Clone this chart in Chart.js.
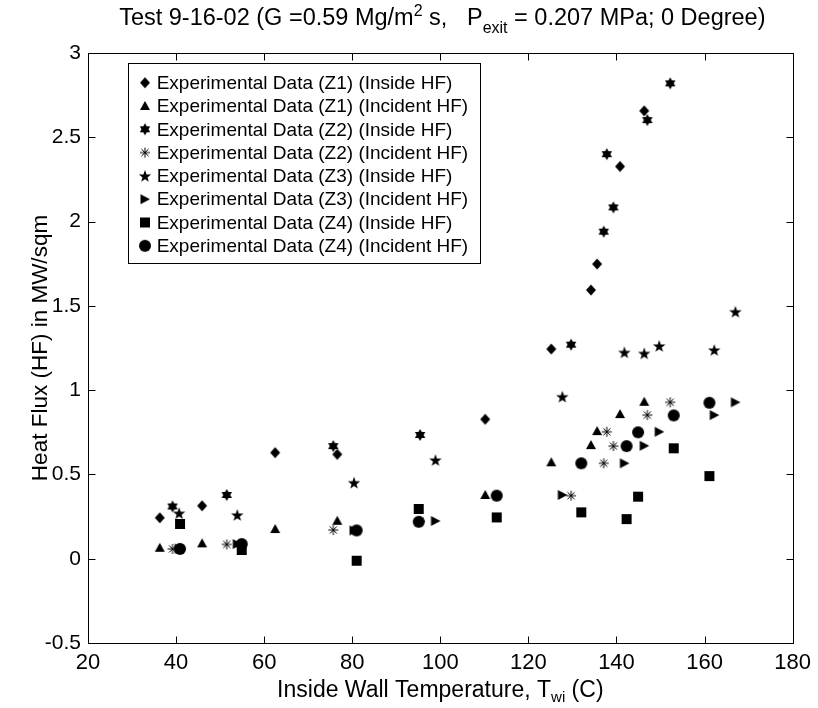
<!DOCTYPE html>
<html><head><meta charset="utf-8">
<script src="https://cdn.jsdelivr.net/npm/chart.js@4.4.0/dist/chart.umd.min.js"></script>
<style>html,body{margin:0;padding:0;background:#fff;} canvas{display:block;}</style>
</head><body>
<canvas id="c" width="818" height="708"></canvas>
<script>
// ---- data ----
const xTicks = [20, 40, 60, 80, 100, 120, 140, 160, 180];
const yTicks = [-0.5, 0, 0.5, 1, 1.5, 2, 2.5, 3];

const z1T        = [36.3, 45.9, 62.5, 76.6, 110.2, 125.2, 134.2, 135.6, 140.8, 146.3];
const z1Inside   = [0.243, 0.314, 0.629, 0.619, 0.827, 1.244, 1.594, 1.748, 2.327, 2.657];
const z1Incident = [0.065, 0.091, 0.176, 0.225, 0.378, 0.572, 0.674, 0.757, 0.858, 0.931];

const z2T        = [39.2, 51.5, 75.7, 95.4, 129.7, 137.1, 137.8, 139.3, 147.0, 152.2];
const z2Inside   = [0.310, 0.378, 0.668, 0.734, 1.270, 1.940, 2.400, 2.084, 2.602, 2.820];
const z2Incident = [0.058, 0.085, 0.170, 0.222, 0.374, 0.566, 0.753, 0.668, 0.852, 0.928];

const z3T        = [40.7, 53.9, 80.4, 98.9, 127.7, 141.8, 146.3, 149.7, 162.2, 167.0];
const z3Inside   = [0.270, 0.259, 0.451, 0.585, 0.961, 1.224, 1.218, 1.262, 1.238, 1.465];
const z3Incident = [0.060, 0.087, 0.168, 0.224, 0.378, 0.566, 0.670, 0.753, 0.852, 0.928];

const z4T        = [40.9, 54.9, 81.0, 95.1, 112.8, 132.0, 142.3, 144.9, 153.0, 161.1];
const z4Inside   = [0.206, 0.052, -0.012, 0.295, 0.245, 0.275, 0.235, 0.368, 0.655, 0.490];
const z4Incident = [0.058, 0.087, 0.168, 0.219, 0.374, 0.566, 0.668, 0.750, 0.850, 0.925];

const seriesLabels = [
  'Experimental Data (Z1) (Inside HF)',
  'Experimental Data (Z1) (Incident HF)',
  'Experimental Data (Z2) (Inside HF)',
  'Experimental Data (Z2) (Incident HF)',
  'Experimental Data (Z3) (Inside HF)',
  'Experimental Data (Z3) (Incident HF)',
  'Experimental Data (Z4) (Inside HF)',
  'Experimental Data (Z4) (Incident HF)'
];
const seriesX = [z1T, z1T, z2T, z2T, z3T, z3T, z4T, z4T];
const seriesY = [z1Inside, z1Incident, z2Inside, z2Incident, z3Inside, z3Incident, z4Inside, z4Incident];
const seriesMarker = ['diamond', 'triUp', 'hexagram', 'asterisk', 'pentagram', 'triRight', 'square', 'circle'];

// ---- styling ----
const FONT = '"Liberation Sans", Arial, Helvetica, sans-serif';

function marker(kind) {
  const s = 18, c = s / 2;
  const cv = document.createElement('canvas');
  cv.width = s; cv.height = s;
  const g = cv.getContext('2d');
  g.fillStyle = '#000'; g.strokeStyle = '#000';
  g.beginPath();
  switch (kind) {
    case 'diamond':
      g.moveTo(c, c - 5.5); g.lineTo(c + 5, c); g.lineTo(c, c + 5.5); g.lineTo(c - 5, c); g.closePath(); g.fill(); break;
    case 'triUp':
      g.moveTo(c, c - 5); g.lineTo(c + 5, c + 4); g.lineTo(c - 5, c + 4); g.closePath(); g.fill(); break;
    case 'hexagram': {
      const r = 6;
      for (const off of [-Math.PI / 2, Math.PI / 2]) {
        g.beginPath();
        for (let k = 0; k < 3; k++) {
          const a = off + k * 2 * Math.PI / 3;
          const x = c + r * Math.cos(a), y = c + r * Math.sin(a);
          if (k) g.lineTo(x, y); else g.moveTo(x, y);
        }
        g.closePath(); g.fill();
      }
      break;
    }
    case 'asterisk': {
      g.lineWidth = 1; g.strokeStyle = '#000';
      for (let k = 0; k < 4; k++) {
        const a = k * Math.PI / 4;
        g.moveTo(c - 5 * Math.cos(a), c - 5 * Math.sin(a));
        g.lineTo(c + 5 * Math.cos(a), c + 5 * Math.sin(a));
      }
      g.stroke(); break;
    }
    case 'pentagram': {
      const R = 6.5, r = 2.6;
      for (let k = 0; k < 10; k++) {
        const a = -Math.PI / 2 + k * Math.PI / 5;
        const rr = k % 2 ? r : R;
        const x = c + rr * Math.cos(a), y = c + 0.6 + rr * Math.sin(a);
        if (k) g.lineTo(x, y); else g.moveTo(x, y);
      }
      g.closePath(); g.fill(); break;
    }
    case 'triRight':
      g.moveTo(c + 5, c); g.lineTo(c - 4.5, c - 5); g.lineTo(c - 4.5, c + 5); g.closePath(); g.fill(); break;
    case 'square':
      g.rect(c - 5, c - 5, 10, 10); g.fill(); break;
    case 'circle':
      g.arc(c, c, 6, 0, Math.PI * 2); g.fill(); break;
  }
  return cv;
}
const markers = seriesMarker.map(marker);

function drawRich(ctx, parts, cx, baseline) {
  let w = 0;
  for (const p of parts) { ctx.font = p.size + 'px ' + FONT; p.w = ctx.measureText(p.t).width; w += p.w; }
  let x = cx - w / 2;
  ctx.textAlign = 'left'; ctx.textBaseline = 'alphabetic'; ctx.fillStyle = '#000';
  for (const p of parts) { ctx.font = p.size + 'px ' + FONT; ctx.fillText(p.t, x, baseline + (p.dy || 0)); x += p.w; }
}

const framePlugin = {
  id: 'frame',
  afterDraw(chart) {
    const ctx = chart.ctx;
    const {left, right, top, bottom} = chart.chartArea;
    const xs = chart.scales.x, ys = chart.scales.y;
    const L = Math.round(left) + 0.5, R = Math.round(right) + 0.5, T = Math.round(top) + 0.5, B = Math.round(bottom) + 0.5;
    ctx.save();
    ctx.strokeStyle = '#000'; ctx.lineWidth = 1;
    ctx.strokeRect(L, T, R - L, B - T);
    const tl = 7;
    ctx.beginPath();
    for (const v of xTicks) {
      const p = Math.round(xs.getPixelForValue(v)) + 0.5;
      ctx.moveTo(p, B); ctx.lineTo(p, B - tl);
      ctx.moveTo(p, T); ctx.lineTo(p, T + tl);
    }
    for (const v of yTicks) {
      const p = Math.round(ys.getPixelForValue(v)) + 0.5;
      ctx.moveTo(L, p); ctx.lineTo(L + tl, p);
      ctx.moveTo(R, p); ctx.lineTo(R - tl, p);
    }
    ctx.stroke();

    // legend box
    const lx = 128.5, ly = 63.5, lw = 352, lh = 200;
    ctx.fillStyle = '#fff';
    ctx.fillRect(lx, ly, lw, lh);
    ctx.strokeRect(lx, ly, lw, lh);
    ctx.fillStyle = '#000';
    ctx.font = '19px ' + FONT;
    ctx.textAlign = 'left'; ctx.textBaseline = 'middle';
    seriesLabels.forEach((lab, i) => {
      const cy = 82.7 + 23.3 * i;
      const m = markers[i];
      ctx.drawImage(m, 145 - m.width / 2, cy - m.height / 2);
      ctx.fillText(lab, 156.7, cy + 1);
    });

    // title
    const cx = (left + right) / 2;
    drawRich(ctx, [
      {t: 'Test 9-16-02 (G =0.59 Mg/m', size: 23.5},
      {t: '2', size: 16, dy: -9},
      {t: ' s,   P', size: 23.5},
      {t: 'exit', size: 16, dy: 8},
      {t: ' = 0.207 MPa; 0 Degree)', size: 23.5}
    ], cx + 2, 25);

    // x label
    drawRich(ctx, [
      {t: 'Inside Wall Temperature, T', size: 23},
      {t: 'wi', size: 15, dy: 5},
      {t: ' (C)', size: 23}
    ], cx, 697);

    // y label
    ctx.save();
    ctx.translate(47, (top + bottom) / 2);
    ctx.rotate(-Math.PI / 2);
    ctx.font = '22.5px ' + FONT;
    ctx.textAlign = 'center'; ctx.textBaseline = 'alphabetic';
    ctx.fillText('Heat Flux (HF) in MW/sqm', 0, 0);
    ctx.restore();
    ctx.restore();
  }
};

new Chart(document.getElementById('c'), {
  type: 'scatter',
  data: {
    datasets: seriesLabels.map((lab, i) => ({
      label: lab,
      data: seriesX[i].map((x, j) => ({x: x, y: seriesY[i][j]})),
      pointStyle: markers[i],
      pointRadius: 6,
      showLine: false,
      order: seriesLabels.length - i
    }))
  },
  options: {
    responsive: false,
    animation: false,
    events: [],
    layout: {padding: {left: 0, right: 25, top: 53, bottom: 0}},
    plugins: {legend: {display: false}, title: {display: false}, tooltip: {enabled: false}},
    scales: {
      x: {
        type: 'linear', min: 20, max: 180,
        afterFit: s => { s.height = 65; },
        afterBuildTicks: s => { s.ticks = xTicks.map(v => ({value: v})); },
        grid: {display: false, drawTicks: false},
        border: {display: false},
        ticks: {font: {family: FONT, size: 22}, color: '#000', padding: 7, maxRotation: 0, autoSkip: false,
                callback: v => String(v)}
      },
      y: {
        type: 'linear', min: -0.5, max: 3,
        afterFit: s => { s.width = 88; },
        afterBuildTicks: s => { s.ticks = yTicks.map(v => ({value: v})); },
        grid: {display: false, drawTicks: false},
        border: {display: false},
        ticks: {font: {family: FONT, size: 21}, color: '#000', padding: 7, autoSkip: false,
                callback: v => String(v)}
      }
    }
  },
  plugins: [framePlugin]
});
</script>
</body></html>
